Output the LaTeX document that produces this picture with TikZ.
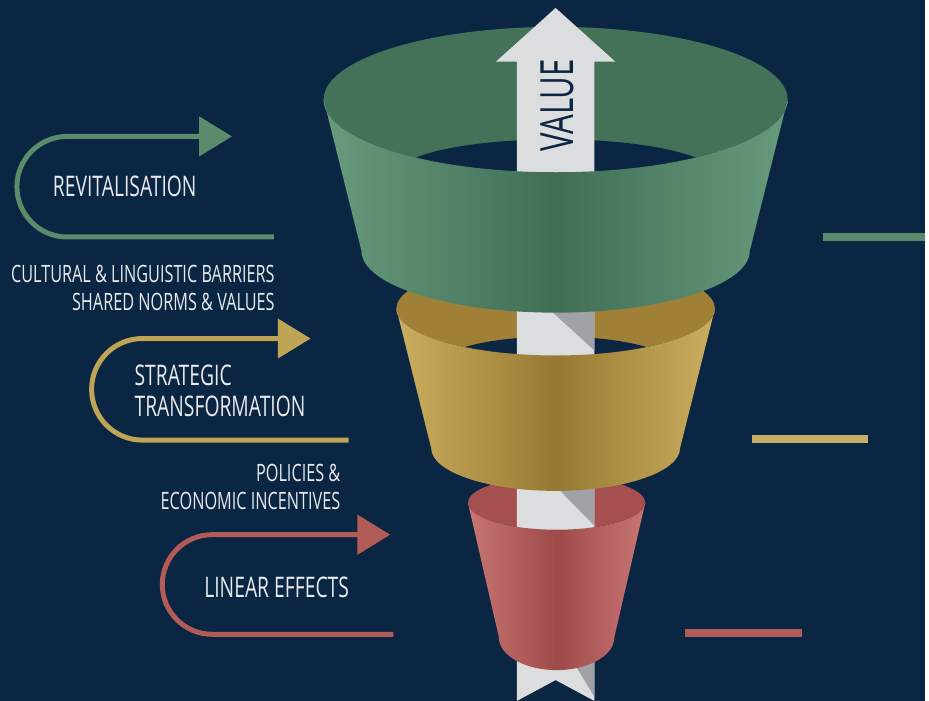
\documentclass[tikz,border=0pt]{standalone}
\usepackage{fontspec}
\setmainfont{Open Sans}[FakeStretch=0.68]
\usetikzlibrary{arrows.meta}
\definecolor{navy}{RGB}{11,38,66}
\definecolor{txtwhite}{RGB}{232,234,238}
\definecolor{gback}{RGB}{68,114,88}
\definecolor{gedge}{RGB}{104,154,124}
\definecolor{gmid}{RGB}{63,110,85}
\definecolor{gline}{RGB}{90,140,108}
\definecolor{yback}{RGB}{160,128,55}
\definecolor{yedge}{RGB}{204,174,96}
\definecolor{ymid}{RGB}{150,120,50}
\definecolor{yline}{RGB}{190,165,85}
\definecolor{rback}{RGB}{165,80,78}
\definecolor{redge}{RGB}{200,118,116}
\definecolor{rmid}{RGB}{158,74,72}
\definecolor{rline}{RGB}{178,92,88}
\definecolor{valuegray}{RGB}{220,221,223}
\definecolor{twistgray}{RGB}{160,162,167}
\tikzset{
	uturn/.style={line width=5, -{Triangle[length=33, width=39]}},
	sideline/.style={line width=8},
	biglbl/.style={text=txtwhite, inner sep=0, font=\fontsize{28.5}{30}\selectfont},
	smalllbl/.style={text=txtwhite, inner sep=0, font=\fontsize{24}{26}\selectfont}
}

\begin{document}
\begin{tikzpicture}[x=1pt, y=1pt]
		%%%%% START %%%%%
		\fill[navy] (0, 0) rectangle (929, 704);
		
		% inner walls and holes
		\fill[rback] (559, 199) ellipse [x radius=89, y radius=27];
		\fill[yback] (558, 394) ellipse [x radius=160, y radius=47];
		\fill[navy] (558, 339) ellipse [x radius=115, y radius=27];
		\fill[gback] (558, 604) ellipse [x radius=233, y radius=73];
		\fill[navy] (558, 529) ellipse [x radius=160, y radius=35];
		
		% value arrow
		\fill[valuegray] (519, 0) -- (519, 642) -- (498, 642) -- (558, 696) -- (618, 642) -- (597, 642) -- (597, 0) -- (558, 21) -- cycle;
		\fill[twistgray] (540, 404) -- (597, 404) -- (597, 352) -- cycle;
		\fill[twistgray] (540, 234) -- (597, 234) -- (597, 176) -- cycle;
		\fill[twistgray] (555, 74) -- (597, 74) -- (597, 4) -- cycle;
		\node[rotate=90, text=navy, inner sep=0, font=\fontsize{46}{48}\selectfont] (value) at (560, 598) {VALUE};
		
		% front faces
		\shade[left color=redge, right color=redge, middle color=rmid] (470, 199) arc[start angle=180, end angle=360, x radius=89, y radius=27] -- (617, 64) arc[start angle=0, end angle=-180, x radius=58, y radius=33] -- cycle;
		\shade[left color=yedge, right color=yedge, middle color=ymid] (398, 394) arc[start angle=180, end angle=360, x radius=160, y radius=47] -- (683, 254) arc[start angle=0, end angle=-180, x radius=125, y radius=43] -- cycle;
		\shade[left color=gedge, right color=gedge, middle color=gmid] (325, 604) arc[start angle=180, end angle=360, x radius=233, y radius=73] -- (753, 452) arc[start angle=0, end angle=-180, x radius=195, y radius=62] -- cycle;
		
		% u-turn arrows
		\draw[uturn, gline] (275, 466) -- (67.5, 466) arc[start angle=270, end angle=90, radius=50.5] -- (233, 567);
		\draw[uturn, yline] (350, 262) -- (143, 262) arc[start angle=270, end angle=90, radius=51] -- (312, 364);
		\draw[uturn, rline] (395, 67) -- (213, 67) arc[start angle=270, end angle=90, radius=50] -- (392, 167);
		
		\draw[sideline, gline] (827, 466) -- (929, 466);
		\draw[sideline, yline!90!white] (755, 263) -- (872, 263);
		\draw[sideline, rline] (688, 68) -- (805, 68);
		
		% labels
		\node[biglbl, anchor=west] (revit) at (53, 517) {REVITALISATION};
		\node[smalllbl, anchor=east] (barriers) at (276, 429) {CULTURAL \& LINGUISTIC BARRIERS};
		\node[smalllbl, anchor=east] (norms) at (276, 401) {SHARED NORMS \& VALUES};
		\node[biglbl, anchor=west] (strat) at (135, 327) {STRATEGIC};
		\node[biglbl, anchor=west] (transf) at (135, 296) {TRANSFORMATION};
		\node[smalllbl, anchor=east] (policies) at (342, 229) {POLICIES \&};
		\node[smalllbl, anchor=east] (incent) at (342, 201) {ECONOMIC INCENTIVES};
		\node[biglbl, anchor=west] (linear) at (205, 114) {LINEAR EFFECTS};
		%%%%% END %%%%%
	\end{tikzpicture}
\end{document}
